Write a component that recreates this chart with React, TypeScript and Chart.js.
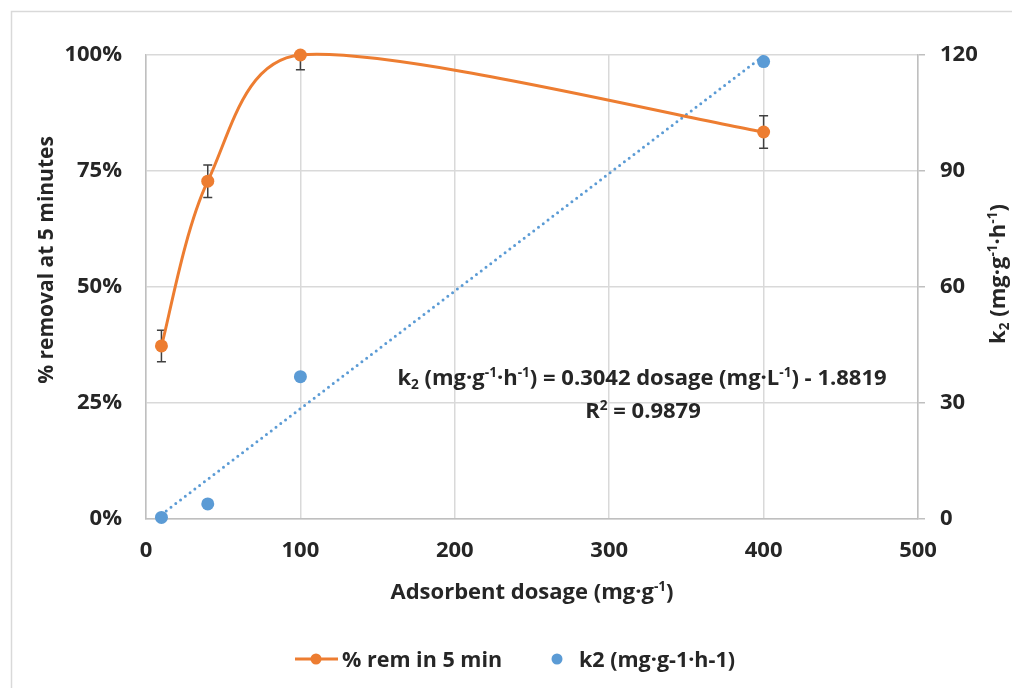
import React, { useEffect, useRef } from "react";
import { Chart, registerables } from "chart.js";

Chart.register(...registerables);

// ---------- data ----------
const dosage = [10, 40, 100, 400];
const removal = [0.373, 0.728, 1.0, 0.834];
const removalErr = [0.034, 0.035, 0.032, 0.035];
const k2Values = [0.4, 3.9, 36.8, 118.3];
const trendSlope = 0.3042;
const trendIntercept = -1.8819;
const trendR2 = 0.9879;
const trendRange = [10, 400];
const xTickStep = 100;
const leftTickStep = 0.25;
const rightTickStep = 30;
const seriesNames = ["% rem in 5 min", "k2 (mg·g-1·h-1)"];

const ORANGE = "#ED7D31";
const BLUE = "#5B9BD5";
const TEXT = "#262626";
const GRID = "#d9d9d9";
const AXIS = "#bfbfbf";
const FAMILY = "'Open Sans', Lato, 'DejaVu Sans', sans-serif";
const FS_TICK = 22;
const FS_TITLE = 22;
const FS_YTITLE = 21;
const FS_LEGEND = 21.5;

type Seg = { t: string; s?: "sup" | "sub" };

const fontOf = (size: number) => `bold ${size}px ${FAMILY}`;

function richWidth(ctx: CanvasRenderingContext2D, segs: Seg[], size: number) {
  let w = 0;
  for (const sg of segs) {
    ctx.font = fontOf(sg.s ? size * 0.62 : size);
    w += ctx.measureText(sg.t).width;
  }
  return w;
}

function drawRich(
  ctx: CanvasRenderingContext2D,
  segs: Seg[],
  x: number,
  y: number,
  size: number,
  align: "center" | "left"
) {
  const w = richWidth(ctx, segs, size);
  let cx = align === "center" ? x - w / 2 : x;
  ctx.textAlign = "left";
  ctx.textBaseline = "alphabetic";
  ctx.fillStyle = TEXT;
  for (const sg of segs) {
    const sz = sg.s ? size * 0.62 : size;
    const dy = sg.s === "sup" ? -size * 0.38 : sg.s === "sub" ? size * 0.2 : 0;
    ctx.font = fontOf(sz);
    ctx.fillText(sg.t, cx, y + dy);
    cx += ctx.measureText(sg.t).width;
  }
}

const k2Label: Seg[] = [
  { t: "k" },
  { t: "2", s: "sub" },
  { t: " (mg·g" },
  { t: "-1", s: "sup" },
  { t: "·h" },
  { t: "-1", s: "sup" },
  { t: ")" },
];

const xTitle: Seg[] = [{ t: "Adsorbent dosage (mg·g" }, { t: "-1", s: "sup" }, { t: ")" }];

const eqLine: Seg[] = [
  ...k2Label,
  { t: ` = ${trendSlope.toFixed(4)} dosage (mg·L` },
  { t: "-1", s: "sup" },
  { t: `) ${trendIntercept < 0 ? "-" : "+"} ${Math.abs(trendIntercept).toFixed(4)}` },
];

const r2Line: Seg[] = [{ t: "R" }, { t: "2", s: "sup" }, { t: ` = ${trendR2.toFixed(4)}` }];

// Excel-like smoothing: Catmull-Rom control points, arms limited by segment length
function applyExcelSmoothing(chart: any) {
  const meta = chart.getDatasetMeta(0);
  const pts = meta.data as any[];
  const n = pts.length;
  const dist = (a: any, b: any) => Math.hypot(b.x - a.x, b.y - a.y);
  const limit = 0.36;
  for (let i = 0; i < n; i++) {
    const p = pts[i];
    const prev = pts[Math.max(0, i - 1)];
    const next = pts[Math.min(n - 1, i + 1)];
    const tx = (next.x - prev.x) / 6;
    const ty = (next.y - prev.y) / 6;
    const tl = Math.hypot(tx, ty) || 1;
    const dPrev = i > 0 ? dist(prev, p) : 0;
    const dNext = i < n - 1 ? dist(p, next) : 0;
    const sPrev = Math.min(1, (limit * dPrev) / tl);
    const sNext = Math.min(1, (limit * dNext) / tl);
    p.cp1x = p.x - tx * sPrev;
    p.cp1y = p.y - ty * sPrev;
    p.cp2x = p.x + tx * sNext;
    p.cp2y = p.y + ty * sNext;
  }
  if (meta.dataset) {
    meta.dataset._pointsUpdated = true;
    meta.dataset._path = undefined;
  }
}

const decorPlugin = {
  id: "decor",
  beforeDraw(chart: any) {
    const ctx = chart.ctx as CanvasRenderingContext2D;
    ctx.save();
    ctx.fillStyle = "#ffffff";
    ctx.fillRect(0, 0, chart.width, chart.height);
    ctx.strokeStyle = GRID;
    ctx.lineWidth = 1.5;
    ctx.strokeRect(11.5, 11.5, chart.width + 50, chart.height + 50);
    ctx.restore();
  },
  beforeDatasetsDraw(chart: any) {
    applyExcelSmoothing(chart);
    const ctx = chart.ctx as CanvasRenderingContext2D;
    const xs = chart.scales.x;
    const ys = chart.scales.y;
    const ca = chart.chartArea;
    ctx.save();
    ctx.beginPath();
    ctx.rect(ca.left - 10, ca.top, ca.right - ca.left + 20, ca.bottom - ca.top);
    ctx.clip();
    ctx.strokeStyle = "#404040";
    ctx.lineWidth = 1.5;
    for (let i = 0; i < dosage.length; i++) {
      const px = xs.getPixelForValue(dosage[i]);
      const yt = ys.getPixelForValue(removal[i] + removalErr[i]);
      const yb = ys.getPixelForValue(removal[i] - removalErr[i]);
      ctx.beginPath();
      ctx.moveTo(px, yt);
      ctx.lineTo(px, yb);
      ctx.moveTo(px - 4.5, yt);
      ctx.lineTo(px + 4.5, yt);
      ctx.moveTo(px - 4.5, yb);
      ctx.lineTo(px + 4.5, yb);
      ctx.stroke();
    }
    ctx.restore();
  },
  afterDraw(chart: any) {
    const ctx = chart.ctx as CanvasRenderingContext2D;
    const ca = chart.chartArea;
    ctx.save();
    // x title
    drawRich(ctx, xTitle, (ca.left + ca.right) / 2, 599, FS_TITLE, "center");
    // left title
    ctx.save();
    ctx.translate(53, 260);
    ctx.rotate(-Math.PI / 2);
    drawRich(ctx, [{ t: "% removal at 5 minutes" }], 0, 0, FS_YTITLE, "center");
    ctx.restore();
    // right title
    ctx.save();
    ctx.translate(1005, 274);
    ctx.rotate(-Math.PI / 2);
    drawRich(ctx, k2Label, 0, 0, FS_TITLE, "center");
    ctx.restore();
    // trend annotation
    drawRich(ctx, eqLine, 642, 385, FS_TITLE, "center");
    drawRich(ctx, r2Line, 643, 418, FS_TITLE, "center");

    // legend
    const ly = 659;
    ctx.strokeStyle = ORANGE;
    ctx.lineWidth = 3;
    ctx.beginPath();
    ctx.moveTo(295, ly);
    ctx.lineTo(338, ly);
    ctx.stroke();
    ctx.fillStyle = ORANGE;
    ctx.beginPath();
    ctx.arc(316, ly, 5.5, 0, Math.PI * 2);
    ctx.fill();
    ctx.fillStyle = TEXT;
    ctx.font = fontOf(FS_LEGEND);
    ctx.textAlign = "left";
    ctx.textBaseline = "alphabetic";
    ctx.fillText(seriesNames[0], 342, 667);
    ctx.fillStyle = BLUE;
    ctx.beginPath();
    ctx.arc(557, ly, 5.5, 0, Math.PI * 2);
    ctx.fill();
    ctx.fillStyle = TEXT;
    ctx.fillText(seriesNames[1], 579, 667);
    ctx.restore();
  },
};

export default function App() {
  const ref = useRef<HTMLCanvasElement | null>(null);

  useEffect(() => {
    if (!ref.current) return;
    const tickFont = { family: FAMILY, size: FS_TICK, weight: "bold" as const };
    const chart = new Chart(ref.current, {
      type: "scatter",
      data: {
        datasets: [
          {
            type: "line",
            label: seriesNames[0],
            data: dosage.map((d, i) => ({ x: d, y: removal[i] })),
            yAxisID: "y",
            showLine: true,
            borderColor: ORANGE,
            backgroundColor: ORANGE,
            borderWidth: 3,
            pointRadius: 6.5,
            pointBorderWidth: 0,
            pointBackgroundColor: ORANGE,
            tension: 0.4,
            fill: false,
            clip: false,
          } as any,
          {
            label: seriesNames[1],
            data: dosage.map((d, i) => ({ x: d, y: k2Values[i] })),
            yAxisID: "y2",
            showLine: false,
            borderColor: BLUE,
            backgroundColor: BLUE,
            pointRadius: 6.5,
            pointBorderWidth: 0,
            pointBackgroundColor: BLUE,
            clip: false,
          } as any,
          {
            label: "trend",
            data: trendRange.map((d) => ({ x: d, y: trendSlope * d + trendIntercept })),
            yAxisID: "y2",
            showLine: true,
            borderColor: BLUE,
            borderWidth: 3,
            borderDash: [0, 6],
            borderCapStyle: "round",
            pointRadius: 0,
            tension: 0,
            clip: false,
          } as any,
        ],
      },
      options: {
        responsive: false,
        animation: false,
        devicePixelRatio: 1,
        layout: { padding: { top: 55, left: 0, right: 0, bottom: 0 } },
        elements: { line: { capBezierPoints: false } as any },
        plugins: {
          legend: { display: false },
          tooltip: { enabled: false },
        },
        scales: {
          x: {
            type: "linear",
            min: 0,
            max: 500,
            ticks: { stepSize: xTickStep, font: tickFont, color: TEXT, padding: 19, maxRotation: 0 },
            grid: { color: GRID, lineWidth: 1.5, drawTicks: false },
            border: { color: AXIS, width: 1.5 },
            afterFit: (s: any) => {
              s.height = 169;
            },
          },
          y: {
            type: "linear",
            position: "left",
            min: 0,
            max: 1,
            ticks: {
              stepSize: leftTickStep,
              font: tickFont,
              color: TEXT,
              padding: 24,
              callback: (v: any) => `${Math.round(Number(v) * 100)}%`,
            },
            grid: { color: GRID, lineWidth: 1.5, drawTicks: false },
            border: { color: AXIS, width: 1.5 },
            afterFit: (s: any) => {
              s.width = 146;
            },
          },
          y2: {
            type: "linear",
            position: "right",
            min: 0,
            max: 120,
            ticks: { stepSize: rightTickStep, font: tickFont, color: TEXT, padding: 15 },
            grid: {
              drawOnChartArea: false,
              drawTicks: true,
              tickLength: 7,
              tickColor: AXIS,
              lineWidth: 1.5,
            },
            border: { color: AXIS, width: 1.5 },
            afterFit: (s: any) => {
              s.width = 94;
            },
          },
        },
      } as any,
      plugins: [decorPlugin],
    });
    return () => chart.destroy();
  }, []);

  return (
    <div style={{ position: "absolute", left: 0, top: 0, width: 1012, height: 688 }}>
      <canvas ref={ref} width={1012} height={688} style={{ display: "block" }} />
    </div>
  );
}
